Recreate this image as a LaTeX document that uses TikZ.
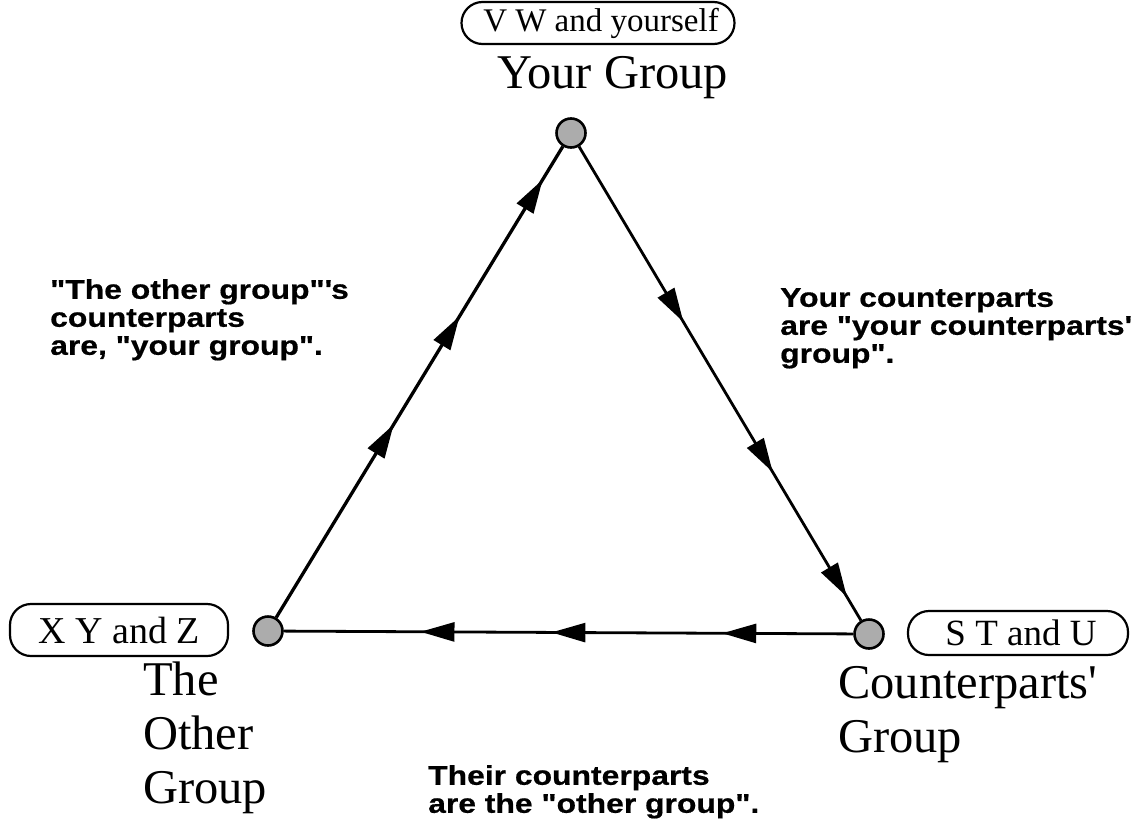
\documentclass[tikz,border=0pt]{standalone}
\usepackage{fontspec}
\setmainfont{Liberation Serif}
\newfontfamily\labfont[FakeStretch=1.18,FakeBold=0.6]{Liberation Sans}
\usetikzlibrary{arrows.meta,decorations.markings}
\begin{document}
\begin{tikzpicture}[x=1pt,y=-1pt,
  >={Triangle[length=34pt,width=19pt]},
  grp/.style={circle,draw,line width=2.6pt,fill=gray!65,minimum size=29pt,inner sep=0},
  namebox/.style={draw,line width=2.2pt,rounded corners=21pt,inner sep=0},
  title/.style={font=\fontsize{48.5}{54}\selectfont,align=left,inner sep=0,anchor=north west},
  lab/.style={font=\labfont\bfseries\fontsize{27}{28}\selectfont,align=left,inner sep=0,anchor=north west},
  edge/.style={line width=2.8pt,postaction={decorate}}
]
\useasboundingbox (0,0) rectangle (1139,822);
% group points
\node[grp] (top) at (571,133) {};
\node[grp] (left) at (268,631) {};
\node[grp] (right) at (869,634) {};
% edges
\draw[edge,line width=3.3pt,decoration={markings,
  mark=at position 0.41 with {\arrow{>}},
  mark=at position 0.64 with {\arrow{>}},
  mark=at position 0.93 with {\arrow{>}}}] (left) -- (top);
\draw[edge,decoration={markings,
  mark=at position 0.37 with {\arrow{>}},
  mark=at position 0.687 with {\arrow{>}},
  mark=at position 0.95 with {\arrow{>}}}] (top) -- (right);
\draw[edge,decoration={markings,
  mark=at position 0.23 with {\arrow{>}},
  mark=at position 0.53 with {\arrow{>}},
  mark=at position 0.76 with {\arrow{>}}}] (right) -- (left);
% name boxes
\node[namebox,font=\fontsize{33}{38}\selectfont,minimum width=273pt,minimum height=42pt] (vw) at (598,23) {\hspace*{6pt}V W and yourself};
\node[namebox,font=\fontsize{38}{42}\selectfont,minimum width=218pt,minimum height=52pt] (xyz) at (119,630) {X Y and Z};
\node[namebox,font=\fontsize{37}{42}\selectfont,minimum width=220pt,minimum height=44pt] (stu) at (1018,633) {\hspace*{6pt}S T and U};
% group titles
\node[font=\fontsize{48.5}{54}\selectfont,anchor=base west,inner sep=0] (yg) at (497,88) {Your Group};
\node[title] (og) at (143,662) {The\\Other\\Group};
\node[title] (cg) at (838,666) {Counterparts\textquotesingle\\Group};
% explanations
\node[lab] (lt) at (50,279) {"The other group"\textquotesingle s\\counterparts\\are, "your group".};
\node[lab] (rt) at (780,288) {Your counterparts\\are "your counterparts\textquotesingle\\group".};
\node[lab] (bt) at (428,765) {Their counterparts\\are the "other group".};
\end{tikzpicture}
\end{document}
